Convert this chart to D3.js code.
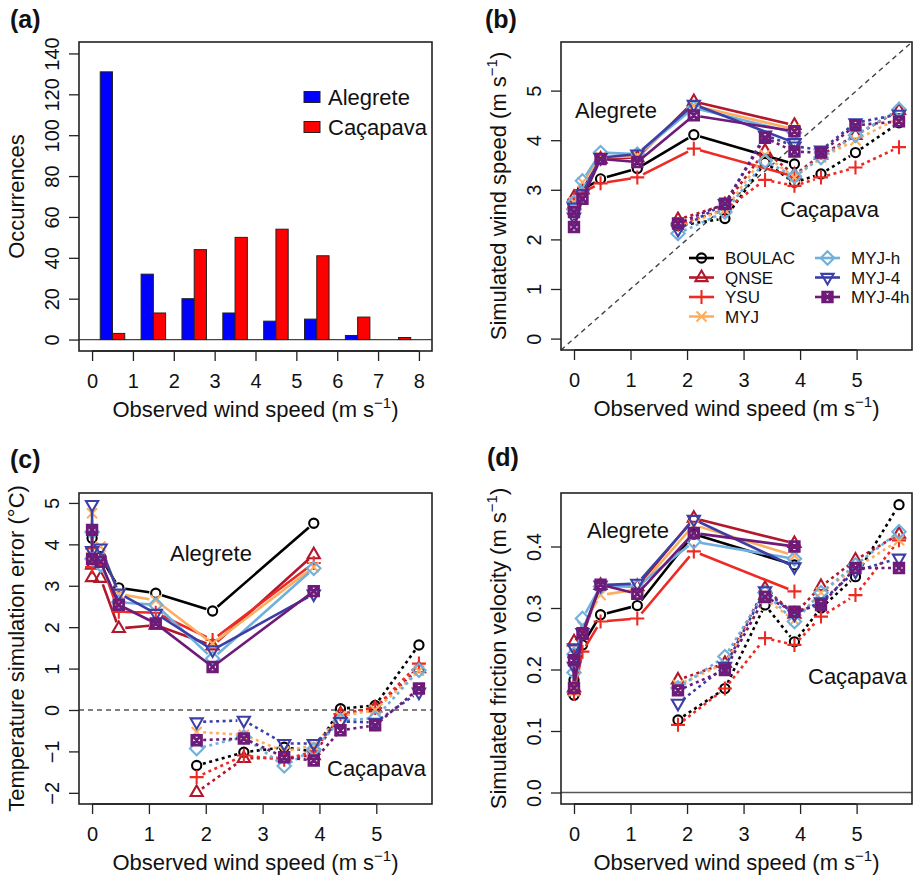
<!DOCTYPE html>
<html><head><meta charset="utf-8">
<script src="https://cdn.jsdelivr.net/npm/d3@7"></script>
<style>body{margin:0;background:#fff}text{font-family:"Liberation Sans",Arial,Helvetica,sans-serif}</style>
</head><body><svg id="chart" width="914" height="881"></svg>
<script>
// ---------------- DATA ----------------
const models = ["BOULAC","QNSE","YSU","MYJ","MYJ-h","MYJ-4","MYJ-4h"];
const histBins = [0,1,2,3,4,5,6,7];
const histAlegrete = [131,32,20,13,9,10,2,0];
const histCacapava = [3,13,44,50,54,41,11,1];
const histTicksX = [0,1,2,3,4,5,6,7,8];
const histTicksY = [0,20,40,60,80,100,120,140];

const alegreteX = [0, 0, 0.15, 0.47, 1.12, 2.12, 3.9];
const cacapavaX = [1.84, 2.67, 3.38, 3.9, 4.37, 4.98, 5.75];
const windTicksX = [0,1,2,3,4,5];
const windTicksY = [0,1,2,3,4,5];
const tempTicksY = [-2,-1,0,1,2,3,4,5];
const ustTicksY = [0,0.1,0.2,0.3,0.4];

// (b) simulated wind speed, rows in model order
const windAlegrete = [
  [2.55, 2.60, 3.00, 3.22, 3.43, 4.11, 3.52],
  [2.85, 2.70, 3.00, 3.62, 3.65, 4.78, 4.30],
  [2.70, 2.80, 2.95, 3.13, 3.25, 3.83, 3.27],
  [2.75, 2.65, 3.15, 3.65, 3.68, 4.70, 4.22],
  [2.75, 2.60, 3.18, 3.75, 3.72, 4.65, 4.15],
  [2.65, 2.45, 2.92, 3.65, 3.72, 4.72, 3.95],
  [2.55, 2.25, 2.82, 3.62, 3.56, 4.50, 4.18]
];
const windCacapava = [
  [2.28, 2.42, 3.55, 3.15, 3.32, 3.75, 4.35],
  [2.40, 2.70, 3.78, 3.30, 3.70, 4.10, 4.60],
  [2.30, 2.60, 3.20, 3.08, 3.25, 3.45, 3.86],
  [2.25, 2.60, 3.70, 3.25, 3.65, 4.00, 4.45],
  [2.12, 2.55, 3.58, 3.27, 3.65, 4.10, 4.62],
  [2.20, 2.72, 4.10, 3.88, 3.80, 4.35, 4.52],
  [2.32, 2.72, 4.05, 3.77, 3.75, 4.30, 4.38]
];
// (c) temperature simulation error
const tempAlegrete = [
  [4.15, 3.55, 3.70, 2.95, 2.82, 2.39, 4.51],
  [3.50, 3.20, 3.18, 1.97, 2.05, 1.55, 3.75],
  [3.90, 3.45, 3.60, 2.37, 2.35, 1.69, 3.55],
  [4.75, 3.70, 3.95, 2.80, 2.65, 1.60, 3.45],
  [4.30, 3.65, 3.50, 2.60, 2.54, 1.24, 3.42],
  [4.96, 3.85, 3.91, 2.82, 2.33, 1.45, 2.80],
  [4.35, 3.65, 3.58, 2.54, 2.09, 1.04, 2.87]
];
const tempCacapava = [
  [-1.34, -1.02, -0.90, -1.00,  0.03,  0.11, 1.57],
  [-1.99, -1.17, -1.15, -1.10, -0.10,  0.05, 1.00],
  [-1.62, -1.10, -1.20, -1.00, -0.10,  0.05, 1.12],
  [-0.53, -0.60, -1.00, -0.85, -0.15,  0.00, 0.95],
  [-0.93, -0.65, -1.35, -0.95, -0.25, -0.20, 0.96],
  [-0.29, -0.25, -0.81, -0.81, -0.28, -0.30, 0.43],
  [-0.73, -0.69, -1.14, -1.22, -0.49, -0.37, 0.52]
];
// (d) simulated friction velocity
const ustAlegrete = [
  [0.183, 0.158, 0.240, 0.289, 0.304, 0.420, 0.370],
  [0.245, 0.170, 0.255, 0.337, 0.335, 0.446, 0.405],
  [0.220, 0.160, 0.229, 0.278, 0.283, 0.392, 0.327],
  [0.225, 0.165, 0.270, 0.321, 0.330, 0.435, 0.385],
  [0.225, 0.195, 0.283, 0.335, 0.335, 0.408, 0.380],
  [0.235, 0.205, 0.260, 0.337, 0.340, 0.444, 0.367],
  [0.215, 0.170, 0.259, 0.338, 0.323, 0.422, 0.400]
];
const ustCacapava = [
  [0.118, 0.169, 0.305, 0.245, 0.300, 0.351, 0.468],
  [0.183, 0.210, 0.332, 0.290, 0.335, 0.378, 0.420],
  [0.110, 0.169, 0.251, 0.240, 0.286, 0.321, 0.410],
  [0.175, 0.210, 0.315, 0.280, 0.325, 0.365, 0.410],
  [0.170, 0.221, 0.325, 0.278, 0.325, 0.370, 0.424],
  [0.145, 0.205, 0.328, 0.290, 0.310, 0.360, 0.381],
  [0.166, 0.199, 0.318, 0.294, 0.305, 0.365, 0.365]
];

// ---------------- STYLE ----------------
const colors = ["#000000","#B2182B","#EE2A24","#FDAE61","#70B0DC","#3B3FA6","#6E1A78"];
const shapes = ["circle","tri","plus","cross","diamond","tridown","sqx"];
const FONT_TICK = 20, FONT_TITLE = 22;

const svg = d3.select("#chart");
svg.append("rect").attr("width",914).attr("height",881).attr("fill","#fff");

function axes(g, box, x, y, xt, yt, yfmt) {
  const ax = g.append("g").attr("transform",`translate(0,${box.b})`)
    .call(d3.axisBottom(x).tickValues(xt).tickSize(10).tickSizeOuter(0).tickPadding(13).tickFormat(d3.format("d")));
  ax.select(".domain").remove();
  ax.selectAll("text").attr("font-size",FONT_TICK).attr("fill","#111");
  ax.selectAll("line").attr("stroke","#222").attr("stroke-width",1.3);
  ax.append("line").attr("x1",x(xt[0])).attr("x2",x(xt[xt.length-1])).attr("stroke","#222").attr("stroke-width",1.3);
  const ay = g.append("g").attr("transform",`translate(${box.l},0)`)
    .call(d3.axisLeft(y).tickValues(yt).tickSize(10).tickSizeOuter(0).tickFormat(yfmt));
  ay.select(".domain").remove();
  ay.selectAll("line").attr("stroke","#222").attr("stroke-width",1.3);
  ay.selectAll("text").attr("font-size",FONT_TICK).attr("fill","#111")
    .attr("transform","rotate(-90)").attr("x",0).attr("y",-20).attr("dy",0).attr("text-anchor","middle");
}
function frame(g, box) {
  g.append("rect").attr("x",box.l).attr("y",box.t).attr("width",box.r-box.l).attr("height",box.b-box.t)
    .attr("fill","none").attr("stroke","#222").attr("stroke-width",1.6);
}
function xTitle(g, box, txt, sup, close) {
  const t = g.append("text").attr("x",(box.l+box.r)/2).attr("y",box.b+66).attr("text-anchor","middle")
    .attr("font-size",FONT_TITLE).attr("fill","#111");
  t.append("tspan").text(txt);
  if (sup) { t.append("tspan").attr("dy",-9).attr("font-size",15).text(sup); t.append("tspan").attr("dy",9).text(close); }
}
function yTitle(g, box, txt, sup, close) {
  const cx = box.l-55, cy=(box.t+box.b)/2;
  const t = g.append("text").attr("transform",`translate(${cx},${cy}) rotate(-90)`).attr("text-anchor","middle")
    .attr("font-size",FONT_TITLE).attr("fill","#111");
  t.append("tspan").text(txt);
  if (sup) { t.append("tspan").attr("dy",-9).attr("font-size",15).text(sup); t.append("tspan").attr("dy",9).text(close); }
}
function panelLabel(txt, x, y) {
  svg.append("text").attr("x",x).attr("y",y).attr("font-size",25).attr("font-weight","bold").attr("fill","#111").text(txt);
}
function marker(g, shape, px, py, color) {
  const m = g.append("g").attr("transform",`translate(${px},${py})`).attr("fill","none").attr("stroke",color).attr("stroke-width",2.1);
  if (shape==="circle") m.append("circle").attr("r",4.6);
  else if (shape==="tri") m.append("path").attr("d","M0,-7L6.1,3.6L-6.1,3.6Z");
  else if (shape==="plus") m.append("path").attr("d","M-7,0H7M0,-7V7");
  else if (shape==="cross") m.append("path").attr("d","M-5,-5L5,5M-5,5L5,-5");
  else if (shape==="diamond") m.append("path").attr("d","M0,-6.7L6.7,0L0,6.7L-6.7,0Z");
  else if (shape==="tridown") m.append("path").attr("d","M0,7L6.1,-3.6L-6.1,-3.6Z");
  else if (shape==="sqx") m.append("path").attr("stroke-width",2.8).attr("d","M-4.8,-4.8H4.8V4.8H-4.8Z M-4.8,-4.8L4.8,4.8M-4.8,4.8L4.8,-4.8");
}
function series(g, x, y, xs, ys, color, shape, dashed) {
  const pts = xs.map((v,i)=>[x(v), y(ys[i])]);
  const gap = 6.5;
  let d = "";
  for (let i=0;i<pts.length-1;i++){
    const [x1,y1]=pts[i],[x2,y2]=pts[i+1];
    const L=Math.hypot(x2-x1,y2-y1);
    if (L<=2*gap) continue;
    const ux=(x2-x1)/L, uy=(y2-y1)/L;
    d += `M${x1+ux*gap},${y1+uy*gap}L${x2-ux*gap},${y2-uy*gap}`;
  }
  g.append("path").attr("d",d).attr("fill","none").attr("stroke",color).attr("stroke-width",2.6)
    .attr("stroke-dasharray",dashed?"3,3.5":null);
  pts.forEach(p=>marker(g, shape, p[0], p[1], color));
}

// ---------------- PANEL (a) ----------------
{
  const box={l:79,r:432,t:42,b:351};
  const g=svg.append("g");
  const x=d3.scaleLinear().domain([-0.32,8.32]).range([box.l,box.r]);
  const y=d3.scaleLinear().domain([-5.6,145.6]).range([box.b,box.t]);
  g.append("line").attr("x1",box.l).attr("x2",box.r).attr("y1",y(0)).attr("y2",y(0)).attr("stroke","#444").attr("stroke-width",1.3);
  histBins.forEach((k,i)=>{
    g.append("rect").attr("x",x(k+0.2)).attr("width",x(k+0.5)-x(k+0.2)).attr("y",y(histAlegrete[i])).attr("height",y(0)-y(histAlegrete[i]))
      .attr("fill","#0000FF").attr("stroke","#222").attr("stroke-width",1);
    g.append("rect").attr("x",x(k+0.5)).attr("width",x(k+0.8)-x(k+0.5)).attr("y",y(histCacapava[i])).attr("height",y(0)-y(histCacapava[i]))
      .attr("fill","#FF0000").attr("stroke","#222").attr("stroke-width",1);
  });
  frame(g,box);
  axes(g,box,x,y,histTicksX,histTicksY,d3.format("d"));
  xTitle(g,box,"Observed wind speed (m s","\u22121",")");
  yTitle(g,box,"Occurrences");
  const leg=[["Alegrete","#0000FF",97],["Caçapava","#FF0000",127]];
  leg.forEach(([t,c,cy])=>{
    g.append("rect").attr("x",304).attr("y",cy-5.5).attr("width",16).attr("height",11).attr("fill",c).attr("stroke","#222").attr("stroke-width",1);
    g.append("text").attr("x",328).attr("y",cy+7.5).attr("font-size",FONT_TITLE).attr("fill","#111").text(t);
  });
  panelLabel("(a)",10,28);
}

// ---------------- PANELS (b),(c),(d) ----------------
function linePanel(box, ydom, yt, yfmt, alg, cac, ytitle, ysup, yclose, extra) {
  const g=svg.append("g");
  const x=d3.scaleLinear().domain([-0.23,5.98]).range([box.l,box.r]);
  const y=d3.scaleLinear().domain(ydom).range([box.b,box.t]);
  extra(g,x,y,box);
  models.forEach((m,i)=>{
    series(g,x,y,alegreteX,alg[i],colors[i],shapes[i],false);
    series(g,x,y,cacapavaX,cac[i],colors[i],shapes[i],true);
  });
  frame(g,box);
  axes(g,box,x,y,windTicksX,yt,yfmt);
  xTitle(g,box,"Observed wind speed (m s","\u22121",")");
  yTitle(g,box,ytitle,ysup,yclose);
  return g;
}

const gb = linePanel({l:561,r:912,t:42,b:350},[-0.23,5.98],windTicksY,d3.format("d"),windAlegrete,windCacapava,
  "Simulated wind speed (m s","\u22121",")",
  (g,x,y,box)=>{
    g.append("line").attr("x1",x(-0.23)).attr("y1",y(-0.23)).attr("x2",x(5.98)).attr("y2",y(5.98))
      .attr("stroke","#444").attr("stroke-width",1.4).attr("stroke-dasharray","5,4");
  });
gb.append("text").attr("x",575).attr("y",118).attr("font-size",FONT_TITLE).attr("fill","#111").text("Alegrete");
gb.append("text").attr("x",780).attr("y",217).attr("font-size",FONT_TITLE).attr("fill","#111").text("Caçapava");
// legend (b)
models.forEach((m,i)=>{
  const col = i<4?0:1, row = i<4?i:i-4;
  const lx = col===0?689:815, cy = 258+row*19.5;
  gb.append("line").attr("x1",lx).attr("x2",lx+25).attr("y1",cy).attr("y2",cy).attr("stroke",colors[i]).attr("stroke-width",2.6);
  marker(gb,shapes[i],lx+12.5,cy,colors[i]);
  gb.append("text").attr("x",lx+36).attr("y",cy+6).attr("font-size",17).attr("fill","#111").text(m);
});
panelLabel("(b)",485,28);

const gc = linePanel({l:79,r:432,t:493,b:804},[-2.27,5.24],tempTicksY,d3.format("d"),tempAlegrete,tempCacapava,
  "Temperature simulation error (°C)",null,null,
  (g,x,y,box)=>{
    g.append("line").attr("x1",box.l).attr("x2",box.r).attr("y1",y(0)).attr("y2",y(0))
      .attr("stroke","#555").attr("stroke-width",1.5).attr("stroke-dasharray","5,4");
  });
gc.append("text").attr("x",170).attr("y",561).attr("font-size",FONT_TITLE).attr("fill","#111").text("Alegrete");
gc.append("text").attr("x",327).attr("y",776).attr("font-size",FONT_TITLE).attr("fill","#111").text("Caçapava");
panelLabel("(c)",10,468);

const gd = linePanel({l:561,r:912,t:493,b:804},[-0.0187,0.487],ustTicksY,d3.format(".1f"),ustAlegrete,ustCacapava,
  "Simulated friction velocity (m s","\u22121",")",
  (g,x,y,box)=>{
    g.append("line").attr("x1",box.l).attr("x2",box.r).attr("y1",y(0)).attr("y2",y(0))
      .attr("stroke","#555").attr("stroke-width",1.3);
  });
gd.append("text").attr("x",587).attr("y",538).attr("font-size",FONT_TITLE).attr("fill","#111").text("Alegrete");
gd.append("text").attr("x",808).attr("y",684).attr("font-size",FONT_TITLE).attr("fill","#111").text("Caçapava");
panelLabel("(d)",487,466);
</script></body></html>
